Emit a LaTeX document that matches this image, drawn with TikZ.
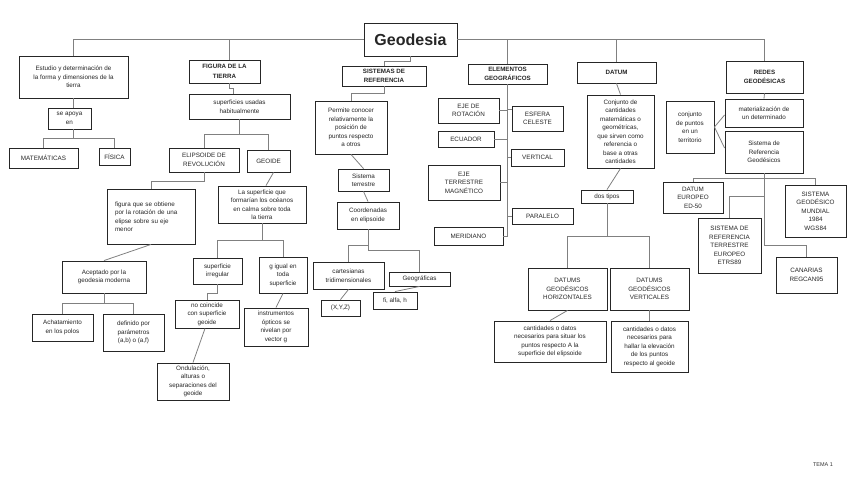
\documentclass[tikz,border=0pt]{standalone}
\usepackage{fontspec}
\setmainfont{Liberation Sans}
\newcommand{\fsn}{\fontsize{6.3}{8.5}\selectfont}
\newcommand{\fsh}{\fontsize{6.2}{9.5}\selectfont\bfseries}
\begin{document}
\begin{tikzpicture}[x=1pt,y=-1pt,
  bx/.style={draw=black!85, line width=0.9pt, fill=white, align=center, inner sep=1pt, font=\fsn, text=black!85},
  hd/.style={bx, font=\fsh},
  ln/.style={draw=black!50, line width=0.8pt}]
\useasboundingbox (0,0) rectangle (848,477);
% title
\node[bx, minimum width=93, minimum height=33, font=\fontsize{16}{18}\selectfont\bfseries] (geo) at (410.5,39.5) {Geodesia};
% left branch
\node[bx, minimum width=109, minimum height=42] (est) at (73.5,77) {Estudio y determinación de\\la forma y dimensiones de la\\tierra};
\node[bx, minimum width=43, minimum height=21] (apoya) at (69.5,118.5) {se apoya\\en};
\node[bx, minimum width=69, minimum height=20] (mat) at (43.5,158) {MATEMÁTICAS};
\node[bx, minimum width=31, minimum height=17] (fis) at (114.5,156.5) {FÍSICA};
% figura
\node[hd, minimum width=71, minimum height=23] (fig) at (224.5,71.5) {FIGURA DE LA\\TIERRA};
\node[bx, minimum width=101, minimum height=25] (sup) at (239.5,106.5) {superficies usadas\\habitualmente};
\node[bx, minimum width=70, minimum height=24] (eli) at (204,160) {ELIPSOIDE DE\\REVOLUCIÓN};
\node[bx, minimum width=43, minimum height=22] (geoide) at (268.5,161) {GEOIDE};
\node[bx, align=left, text width=72, inner xsep=8, minimum height=55] (figq) at (151,216.5) {figura que se obtiene\\por la rotación de una\\elipse sobre su eje\\menor};
\node[bx, minimum width=84, minimum height=32] (acep) at (104,277) {Aceptado por la\\geodesia moderna};
\node[bx, minimum width=61, minimum height=27] (acha) at (62.5,327.5) {Achatamiento\\en los polos};
\node[bx, minimum width=61, minimum height=37] (defi) at (133.5,332.5) {definido por\\parámetros\\(a,b) o (a,f)};
\node[bx, minimum width=88, minimum height=37] (lasup) at (262,204.5) {La superficie que\\formarían los océanos\\en calma sobre toda\\la tierra};
\node[bx, minimum width=49, minimum height=26] (irr) at (217.5,271) {superficie\\irregular};
\node[bx, minimum width=48, minimum height=36] (gig) at (283,275) {g igual en\\toda\\superficie};
\node[bx, minimum width=64, minimum height=28] (noc) at (207,314) {no coincide\\con superficie\\geoide};
\node[bx, minimum width=72, minimum height=37] (ond) at (193,381.5) {Ondulación,\\alturas o\\separaciones del\\geoide};
\node[bx, minimum width=64, minimum height=38] (ins) at (276,327) {instrumentos\\ópticos se\\nivelan por\\vector g};
% sistemas
\node[hd, minimum width=84, minimum height=20] (sis) at (384,76) {SISTEMAS DE\\REFERENCIA};
\node[bx, minimum width=72, minimum height=53] (perm) at (351,127.5) {Permite conocer\\relativamente la\\posición de\\puntos respecto\\a otros};
\node[bx, minimum width=51, minimum height=22] (ster) at (363.5,180) {Sistema\\terrestre};
\node[bx, minimum width=62, minimum height=27] (coor) at (368,215.5) {Coordenadas\\en elipsoide};
\node[bx, minimum width=71, minimum height=27] (cart) at (348.5,275.5) {cartesianas\\tridimensionales};
\node[bx, minimum width=61, minimum height=14] (geog) at (419.5,279) {Geográficas};
\node[bx, minimum width=39, minimum height=16] (xyz) at (340.5,308) {(X,Y,Z)};
\node[bx, minimum width=44, minimum height=17] (fi) at (395,300.5) {fi, alfa, h};
% elementos
\node[hd, minimum width=79, minimum height=20] (ele) at (507.5,74) {ELEMENTOS\\GEOGRÁFICOS};
\node[bx, minimum width=61, minimum height=25] (ejer) at (468.5,110.5) {EJE DE\\ROTACIÓN};
\node[bx, minimum width=56, minimum height=16] (ecu) at (466,139) {ECUADOR};
\node[bx, minimum width=72, minimum height=35] (ejet) at (464,182.5) {EJE\\TERRESTRE\\MAGNÉTICO};
\node[bx, minimum width=69, minimum height=18] (mer) at (468.5,236) {MERIDIANO};
\node[bx, minimum width=51, minimum height=25] (esf) at (537.5,118.5) {ESFERA\\CELESTE};
\node[bx, minimum width=53, minimum height=17] (ver) at (537.5,157.5) {VERTICAL};
\node[bx, minimum width=61, minimum height=16] (par) at (542.5,216) {PARALELO};
% datum
\node[hd, minimum width=79, minimum height=21] (dat) at (616.5,72.5) {DATUM};
\node[bx, minimum width=67, minimum height=73] (conj) at (620.5,131.5) {Conjunto de\\cantidades\\matemáticas o\\geométricas,\\que sirven como\\referencia o\\base a otras\\cantidades};
\node[bx, minimum width=52, minimum height=13] (dos) at (607,196.5) {dos tipos};
\node[bx, minimum width=79, minimum height=42] (dgh) at (567.5,289) {DATUMS\\GEODÉSICOS\\HORIZONTALES};
\node[bx, minimum width=79, minimum height=42] (dgv) at (649.5,289) {DATUMS\\GEODÉSICOS\\VERTICALES};
\node[bx, minimum width=112, minimum height=41] (cah) at (550,341.5) {cantidades o datos\\necesarios para situar los\\puntos respecto A la\\superficie del elipsoide};
\node[bx, minimum width=77, minimum height=51] (cav) at (649.5,346.5) {cantidades o datos\\necesarios para\\hallar la elevación\\de los puntos\\respecto al geoide};
% redes
\node[hd, minimum width=77, minimum height=32] (red) at (764.5,77) {REDES\\GEODÉSICAS};
\node[bx, minimum width=78, minimum height=28] (mat2) at (764,113) {materialización de\\un determinado};
\node[bx, minimum width=78, minimum height=42] (srg) at (764,152) {Sistema de\\Referencia\\Geodésicos};
\node[bx, minimum width=48, minimum height=52] (cpt) at (690,127) {conjunto\\de puntos\\en un\\territorio};
\node[bx, minimum width=60, minimum height=31] (ed50) at (693,197.5) {DATUM\\EUROPEO\\ED-50};
\node[bx, minimum width=61, minimum height=52] (wgs) at (815.5,211) {SISTEMA\\GEODÉSICO\\MUNDIAL\\1984\\WGS84};
\node[bx, minimum width=63, minimum height=55] (etrs) at (729.5,245.5) {SISTEMA DE\\REFERENCIA\\TERRESTRE\\EUROPEO\\ETRS89};
\node[bx, minimum width=61, minimum height=36] (can) at (806.5,275) {CANARIAS\\REGCAN95};
\node[font=\fontsize{5.5}{6}\selectfont, text=black!80, inner sep=0] (tema) at (823,465) {TEMA 1};
% connectors
\draw[ln] (est.north) |- (geo.west);
\draw[ln] (geo.east) -| (red.north);
\draw[ln] ([xshift=4.5]fig.north) -- ([xshift=4.5]fig.north |- geo.west);
\draw[ln] (ele.north) -- (ele.north |- geo.east);
\draw[ln] (dat.north) -- (dat.north |- geo.east);
\draw[ln] (geo.south) -- ++(0,5) -| (sis.north);
\draw[ln] (est.south) -- (est.south |- apoya.north);
\draw[ln] (est.south |- apoya.south) -- ++(0,9) coordinate (j1) -| (mat.north);
\draw[ln] (j1) -| (fis.north);
\draw[ln] ([xshift=4.5]fig.south) -- ++(0,5) -| ([xshift=-6]sup.north);
\draw[ln] (sup.south) -- ++(0,15) coordinate (j2) -| (eli.north);
\draw[ln] (j2) -| (geoide.north);
\draw[ln] (eli.south) -- ++(0,9) -| (figq.north);
\draw[ln] ([xshift=5]geoide.south) -- ([xshift=4]lasup.north);
\draw[ln] (figq.south) -- (acep.north);
\draw[ln] (acep.south) -- ++(0,10) coordinate (j3) -| (acha.north);
\draw[ln] (j3) -| (defi.north);
\draw[ln] (lasup.south) -- ++(0,17) coordinate (j4) -| (irr.north);
\draw[ln] (j4) -| (gig.north);
\draw[ln] (irr.south) -- ++(0,9) -| (noc.north);
\draw[ln] ([xshift=-2]noc.south) -- (ond.north);
\draw[ln] (gig.south) -- (ins.north);
\draw[ln] (sis.south) -- ++(0,7) -| (perm.north);
\draw[ln] (perm.south) -- (ster.north);
\draw[ln] (ster.south) -- (coor.north);
\draw[ln] (coor.south) -- ++(0,16) -| (cart.north);
\draw[ln] (coor.south) -- ++(0,21) -| (geog.north);
\draw[ln] (cart.south) -- (xyz.north);
\draw[ln] (geog.south) -- (fi.north);
\draw[ln] (ele.south) |- (mer.east);
\draw[ln] (ejer.east) -- (ejer.east -| ele.south);
\draw[ln] (ecu.east) -- (ecu.east -| ele.south);
\draw[ln] (ejet.east) -- (ejet.east -| ele.south);
\draw[ln] ([yshift=9]esf.west) -- ([yshift=9]esf.west -| ele.south);
\draw[ln] (ver.west) -- (ver.west -| ele.south);
\draw[ln] (par.west) -- (par.west -| ele.south);
\draw[ln] (dat.south) -- (conj.north);
\draw[ln] (conj.south) -- (dos.north);
\draw[ln] (dos.south) -- ++(0,33) coordinate (j5) -| (dgh.north);
\draw[ln] (j5) -| (dgv.north);
\draw[ln] (dgh.south) -- (cah.north);
\draw[ln] (dgv.south) -- (cav.north);
\draw[ln] (red.south) -- (mat2.north);
\draw[ln] (cpt.east) -- ([yshift=-2]mat2.west);
\draw[ln] (cpt.east) -- ([yshift=4]srg.west);
\draw[ln] (srg.south) -- ++(0,5) coordinate (j6) -| (ed50.north);
\draw[ln] (j6) -| (wgs.north);
\draw[ln] (srg.south) -- ++(0,23) -| (etrs.north);
\draw[ln] (srg.south) -- ++(0,72) -| (can.north);
\end{tikzpicture}
\end{document}
